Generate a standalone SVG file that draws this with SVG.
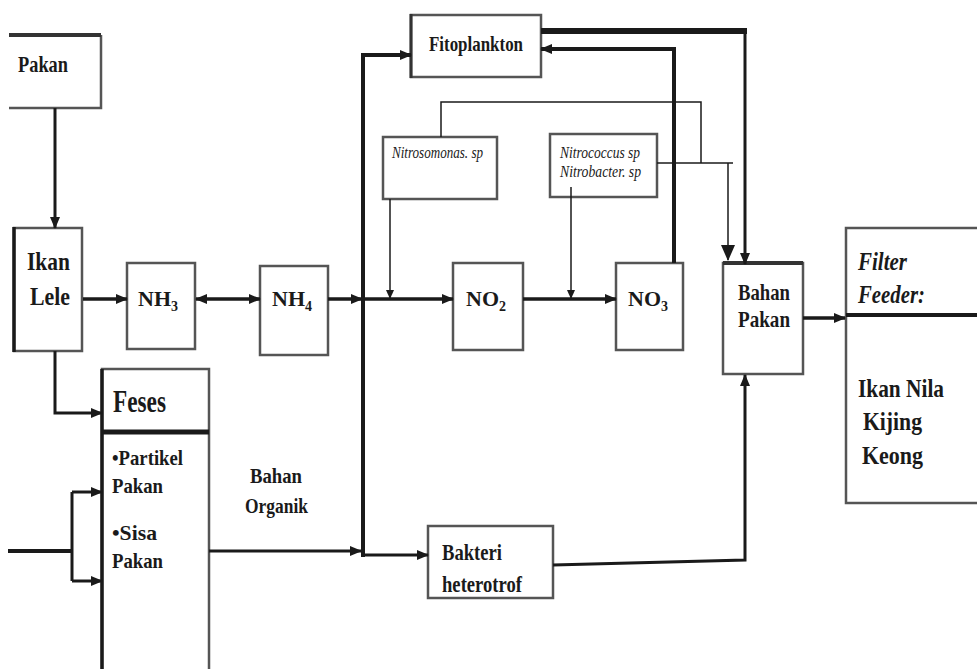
<svg xmlns="http://www.w3.org/2000/svg" width="977" height="669" viewBox="0 0 977 669">
<style>
.box{fill:#fff;stroke:#555;stroke-width:2.5}
.edge{stroke:#1a1a1a;fill:none}
.t{font-weight:bold;fill:#1a1a1a}
.i{font-style:italic;fill:#1a1a1a}
.sub{font-size:14px}
</style>
<defs>
<marker id="a" markerUnits="userSpaceOnUse" markerWidth="12" markerHeight="10" refX="11" refY="5" orient="auto-start-reverse"><path d="M0,0 L12,5 L0,10 z" fill="#1a1a1a"/></marker>
<marker id="s" markerUnits="userSpaceOnUse" markerWidth="9" markerHeight="8" refX="8" refY="4" orient="auto"><path d="M0,0 L9,4 L0,8 z" fill="#1a1a1a"/></marker>
<marker id="b" markerUnits="userSpaceOnUse" markerWidth="16" markerHeight="14" refX="15" refY="7" orient="auto"><path d="M0,0 L16,7 L0,14 z" fill="#1a1a1a"/></marker>
</defs>
<rect width="977" height="669" fill="#fff"/>

<g font-family="Liberation Serif, DejaVu Serif, serif">
<g id="pakan">
<path d="M9,108 H101 V35" class="box"/>
<path d="M9,35 H101" stroke="#333" stroke-width="4"/>
<text class="t" x="18" y="72" font-size="24" textLength="50" lengthAdjust="spacingAndGlyphs">Pakan</text>
</g>

<g id="ikan-lele">
<rect x="14" y="228" width="68" height="123" class="box"/>
<path d="M14,227 V352" stroke="#1a1a1a" stroke-width="3.5"/>
<text class="t" x="27" y="270" font-size="26" textLength="43" lengthAdjust="spacingAndGlyphs">Ikan</text>
<text class="t" x="30" y="305" font-size="26" textLength="40" lengthAdjust="spacingAndGlyphs">Lele</text>
</g>

<g id="nh3">
<rect x="127" y="263" width="68" height="86" class="box"/>
<text class="t" x="138" y="306" font-size="22">NH<tspan class="sub" dy="5">3</tspan></text>
</g>

<g id="nh4">
<rect x="260" y="266" width="68" height="89" class="box"/>
<text class="t" x="272" y="306" font-size="22">NH<tspan class="sub" dy="5">4</tspan></text>
</g>

<g id="feses">
<rect x="102" y="369" width="107" height="310" class="box"/>
<path d="M102,369 V669" stroke="#1a1a1a" stroke-width="3.5"/>
<path d="M102,432 H209" stroke="#1a1a1a" stroke-width="5"/>
<text class="t" x="113" y="412" font-size="31" textLength="53" lengthAdjust="spacingAndGlyphs">Feses</text>
<text class="t" x="112" y="465" font-size="22" textLength="71" lengthAdjust="spacingAndGlyphs">•Partikel</text>
<text class="t" x="112" y="493" font-size="22" textLength="51" lengthAdjust="spacingAndGlyphs">Pakan</text>
<text class="t" x="112" y="540" font-size="22" textLength="45" lengthAdjust="spacingAndGlyphs">•Sisa</text>
<text class="t" x="112" y="568" font-size="22" textLength="51" lengthAdjust="spacingAndGlyphs">Pakan</text>
</g>

<g id="bahan-organik">
<text class="t" x="250" y="483" font-size="21" textLength="52" lengthAdjust="spacingAndGlyphs">Bahan</text>
<text class="t" x="245" y="513" font-size="21" textLength="63" lengthAdjust="spacingAndGlyphs">Organik</text>
</g>

<g id="fitoplankton">
<rect x="411" y="15" width="130" height="62" class="box"/>
<path d="M411,14 V78" stroke="#333" stroke-width="3"/>
<text class="t" x="429" y="51" font-size="21" textLength="94" lengthAdjust="spacingAndGlyphs">Fitoplankton</text>
</g>

<g id="nitrosomonas">
<rect x="383" y="137" width="114" height="62" class="box"/>
<text class="i" x="392" y="158" font-size="16" textLength="91" lengthAdjust="spacingAndGlyphs">Nitrosomonas. sp</text>
</g>

<g id="nitrococcus">
<rect x="550" y="134" width="107" height="63" class="box"/>
<text class="i" x="560" y="158" font-size="16" textLength="80" lengthAdjust="spacingAndGlyphs">Nitrococcus sp</text>
<text class="i" x="560" y="177" font-size="16" textLength="81" lengthAdjust="spacingAndGlyphs">Nitrobacter. sp</text>
</g>

<g id="no2">
<rect x="453" y="263" width="70" height="87" class="box"/>
<text class="t" x="466" y="306" font-size="22">NO<tspan class="sub" dy="5">2</tspan></text>
</g>

<g id="no3">
<rect x="616" y="263" width="67" height="87" class="box"/>
<text class="t" x="628" y="306" font-size="22">NO<tspan class="sub" dy="5">3</tspan></text>
</g>

<g id="bahan-pakan">
<rect x="723" y="263" width="80" height="111" class="box"/>
<path d="M723,263 H803" stroke="#333" stroke-width="4"/>
<text class="t" x="738" y="300" font-size="24" textLength="52" lengthAdjust="spacingAndGlyphs">Bahan</text>
<text class="t" x="738" y="327" font-size="24" textLength="52" lengthAdjust="spacingAndGlyphs">Pakan</text>
</g>

<g id="filter-feeder">
<rect x="846" y="228" width="140" height="275" class="box"/>
<path d="M846,315 H977" stroke="#1a1a1a" stroke-width="4"/>
<text class="i" font-weight="bold" x="858" y="270" font-size="26" textLength="49" lengthAdjust="spacingAndGlyphs">Filter</text>
<text class="i" font-weight="bold" x="858" y="303" font-size="26" textLength="67" lengthAdjust="spacingAndGlyphs">Feeder:</text>
<text class="t" x="858" y="397" font-size="26" textLength="86" lengthAdjust="spacingAndGlyphs">Ikan Nila</text>
<text class="t" x="863" y="430" font-size="26" textLength="59" lengthAdjust="spacingAndGlyphs">Kijing</text>
<text class="t" x="862" y="464" font-size="26" textLength="61" lengthAdjust="spacingAndGlyphs">Keong</text>
</g>

<g id="bakteri">
<rect x="428" y="526" width="125" height="72" class="box"/>
<text class="t" x="442" y="560" font-size="23" textLength="60" lengthAdjust="spacingAndGlyphs">Bakteri</text>
<text class="t" x="442" y="592" font-size="23" textLength="80" lengthAdjust="spacingAndGlyphs">heterotrof</text>
</g>
</g>

<g id="connectors">
<path class="edge" stroke-width="3" d="M55,108 V228" marker-end="url(#a)"/>
<path class="edge" stroke-width="3.5" d="M83,299 H127" marker-end="url(#a)"/>
<path class="edge" stroke-width="3.5" d="M196,299 H260" marker-start="url(#a)" marker-end="url(#a)"/>
<path class="edge" stroke-width="3.5" d="M328,299 H362" marker-end="url(#a)"/>
<path class="edge" stroke-width="3.5" d="M363,299 H453" marker-end="url(#a)"/>
<path class="edge" stroke-width="3.5" d="M523,299 H616" marker-end="url(#a)"/>
<path class="edge" stroke-width="4" d="M363,557 V55 H411" marker-end="url(#a)"/>
<path class="edge" stroke-width="3" d="M363,555 H428" marker-end="url(#a)"/>
<path class="edge" stroke-width="3" d="M209,551 H361" marker-end="url(#a)"/>
<path class="edge" stroke-width="3" d="M55,351 V413 H102" marker-end="url(#a)"/>
<path class="edge" stroke-width="4" d="M8,551 H72"/>
<path class="edge" stroke-width="3" d="M72,492 V581"/>
<path class="edge" stroke-width="3" d="M72,492 H102" marker-end="url(#a)"/>
<path class="edge" stroke-width="3" d="M72,581 H102" marker-end="url(#a)"/>
<path class="edge" stroke-width="6" d="M541,31 H747"/>
<path class="edge" stroke-width="3" d="M745,31 V264" marker-end="url(#a)"/>
<path class="edge" stroke-width="4" d="M674,263 V49 H541" marker-end="url(#a)"/>
<path class="edge" stroke-width="1.5" d="M441,137 V102 H701 V163"/>
<path class="edge" stroke-width="1.5" d="M657,163 H733"/>
<path class="edge" stroke-width="1.5" d="M728,163 V260" marker-end="url(#b)"/>
<path class="edge" stroke-width="1.5" d="M390,199 V298" marker-end="url(#s)"/>
<path class="edge" stroke-width="1.5" d="M571,187 V298" marker-end="url(#s)"/>
<path class="edge" stroke-width="3.5" d="M803,318 H845" marker-end="url(#a)"/>
<path class="edge" stroke-width="3" d="M553,565 L745,560 V375" marker-end="url(#a)"/>
</g>
</svg>
